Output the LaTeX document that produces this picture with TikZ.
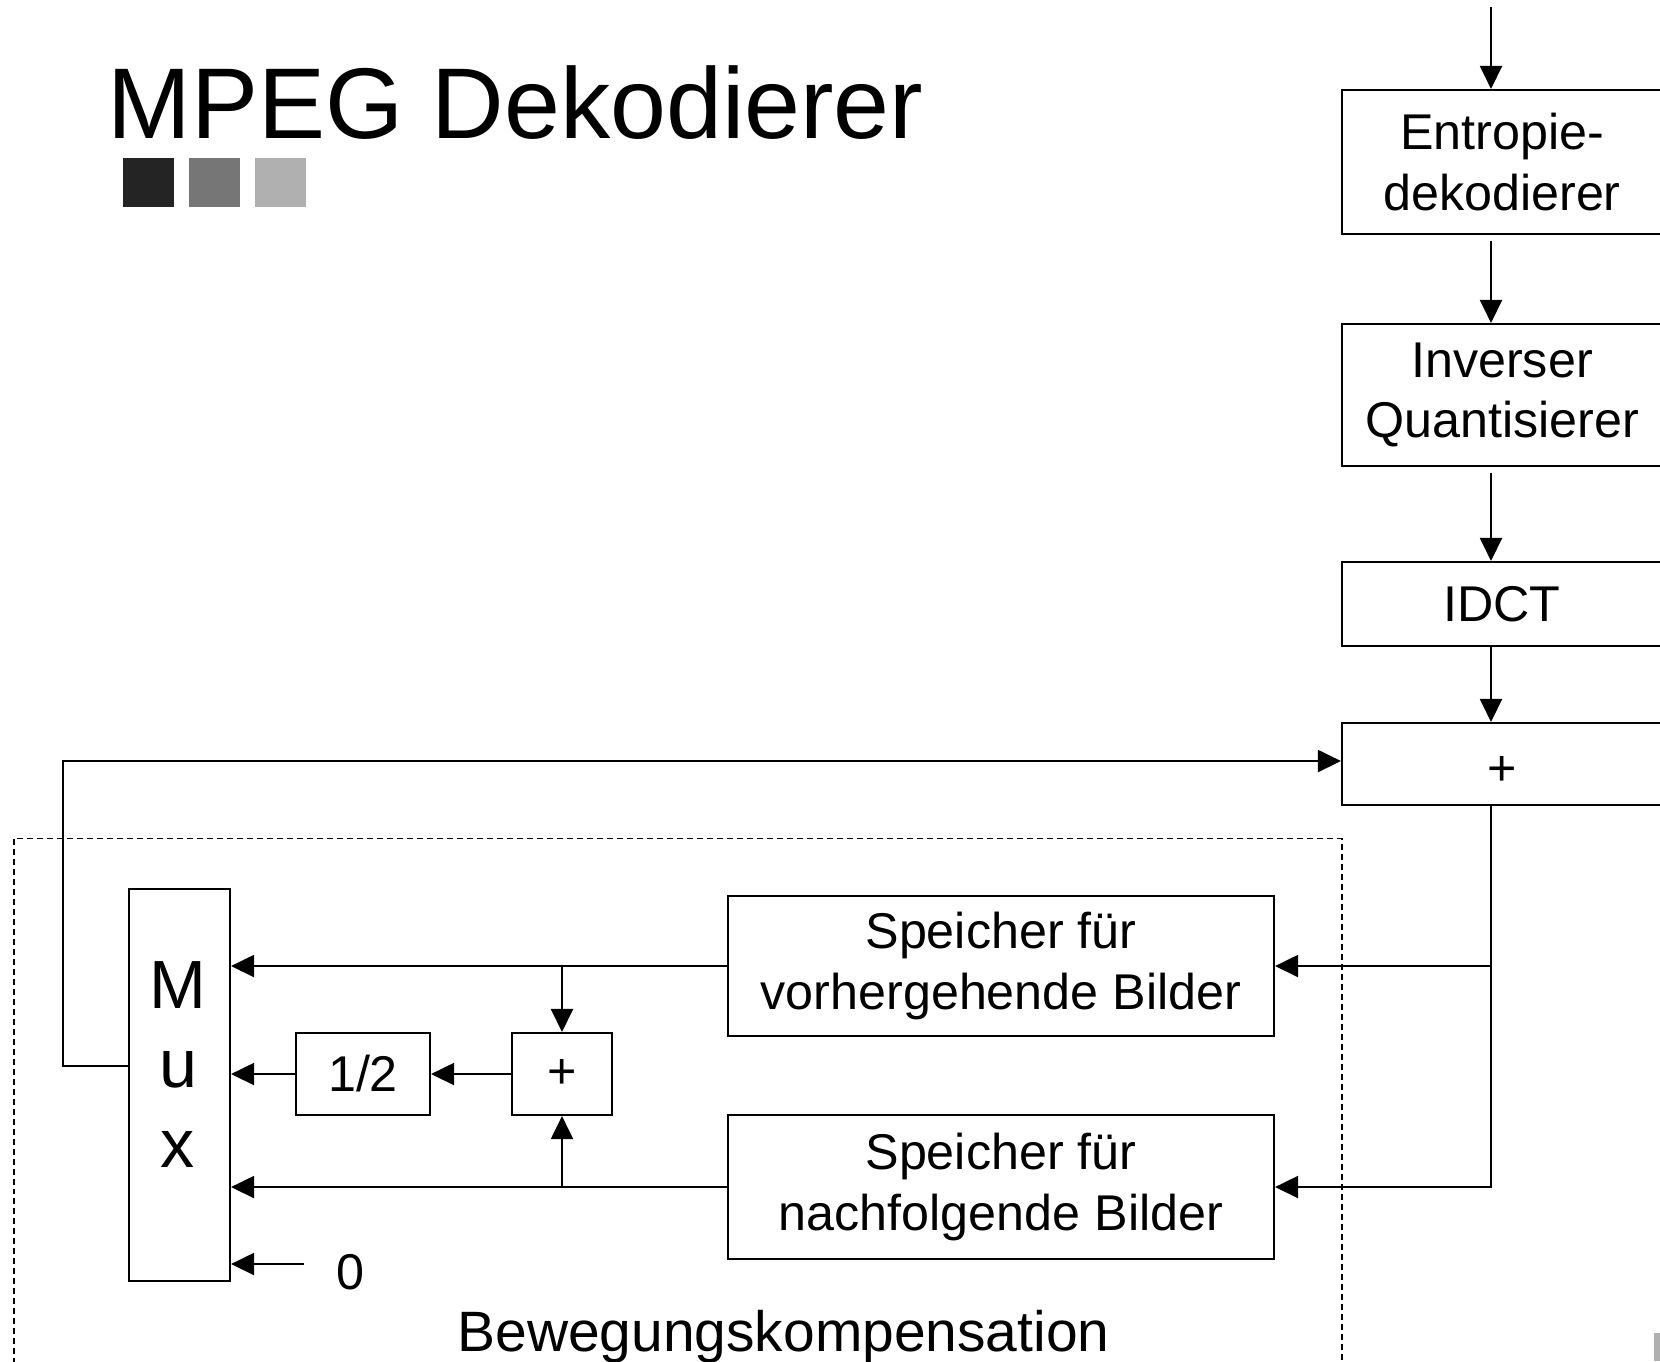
\documentclass[tikz,border=0pt]{standalone}
\usepackage{fontspec}
\setmainfont{Liberation Sans}
\usetikzlibrary{positioning,arrows.meta,calc}

\definecolor{sqdark}{HTML}{242424}
\definecolor{sqmid}{HTML}{767676}
\definecolor{sqlight}{HTML}{B0B0B0}

\begin{document}
\begin{tikzpicture}[
  font=\fontsize{14.3}{17.2}\selectfont,
  block/.style={draw,line width=0.6pt,align=center,inner sep=0pt},
  arrow/.style={-{Triangle[length=2.3mm,width=2.2mm]},line width=0.6pt},
  title/.style={font=\fontsize{28.6}{30}\selectfont,anchor=base west,inner sep=0pt},
  region/.style={dash pattern=on 0.06cm off 0.04cm,line width=0.45pt},
]
  \useasboundingbox (0,0) rectangle (16.6,-13.61);

  % Title with the three grey squares.
  \node[title] (title) at (1.07,-1.38) {MPEG Dekodierer};
  \fill[sqdark]  (1.23,-1.58) rectangle (1.74,-2.07);
  \fill[sqmid]   (1.89,-1.58) rectangle (2.40,-2.07);
  \fill[sqlight] (2.55,-1.58) rectangle (3.06,-2.07);
  \fill[sqlight] (16.54,-13.33) rectangle (16.6,-13.61);

  % Decoding chain on the right.
  \node[block,minimum width=3.2cm,minimum height=1.44cm] (ent) at (15.02,-1.62)
    {Entropie-\\dekodierer};
  \node[block,minimum width=3.2cm,minimum height=1.42cm] (inv) at (15.02,-3.95)
    {Inverser\\Quantisierer};
  \node[block,minimum width=3.2cm,minimum height=0.84cm] (idct) at (15.02,-6.04) {IDCT};
  \node[block,minimum width=3.2cm,minimum height=0.82cm] (sum) at (15.02,-7.64) {};
  \node (sumtext) at (15.02,-7.71) {+};
  \coordinate (top) at (14.91,-0.07);

  \draw[arrow] (top) -- (top |- ent.north);
  \draw[arrow,shorten <=0.06cm] (ent.south -| top) -- (inv.north -| top);
  \draw[arrow,shorten <=0.06cm] (inv.south -| top) -- (idct.north -| top);
  \draw[arrow] (idct.south -| top) -- (sum.north -| top);

  % Motion compensation.
  \draw[region] (0.14,-8.385) rectangle (13.42,-13.8);
  \node[block,minimum width=5.46cm,minimum height=1.405cm] (prev) at (10.01,-9.66)
    {Speicher für\\vorhergehende Bilder};
  \node[block,minimum width=5.46cm,minimum height=1.44cm] (next) at (10.01,-11.87)
    {Speicher für\\nachfolgende Bilder};
  \node[block,minimum width=1.01cm,minimum height=3.92cm] (mux) at (1.795,-10.85) {};
  \node[font=\fontsize{19.4}{22.5}\selectfont,align=center,inner sep=0pt] (muxtext)
    at (1.78,-10.645) {M\\u\\x};
  \node[block,minimum width=1.34cm,minimum height=0.82cm] (half) at (3.63,-10.74) {1/2};
  \node[block,minimum width=1.0cm,minimum height=0.82cm] (add) at (5.62,-10.74) {+};
  \node (zero) at (3.50,-12.72) {0};
  \node[font=\fontsize{16.2}{18}\selectfont,anchor=base,inner sep=0pt] (mc)
    at (7.835,-13.51) {Bewegungskompensation};

  \draw[arrow] (sum.south -| top) |- (next.east);
  \draw[arrow] (prev.east -| top) -- (prev.east);
  \draw[arrow] (prev.west) -- (prev.west -| mux.east);
  \draw[arrow] (next.west) -- (next.west -| mux.east);
  \draw[arrow] (prev.west -| add.north) -- (add.north);
  \draw[arrow] (next.west -| add.south) -- (add.south);
  \draw[arrow] (add.west) -- (half.east);
  \draw[arrow] (half.west) -- (half.west -| mux.east);
  \coordinate (zin) at ([shift={(-0.2,0.08)}]zero.west);
  \draw[arrow] (zin) -- (zin -| mux.east);

  % Feedback to the adder.
  \draw[arrow] ([yshift=0.19cm]mux.west) -- ++(-0.65,0) |- ([yshift=0.03cm]sum.west);
\end{tikzpicture}
\end{document}
